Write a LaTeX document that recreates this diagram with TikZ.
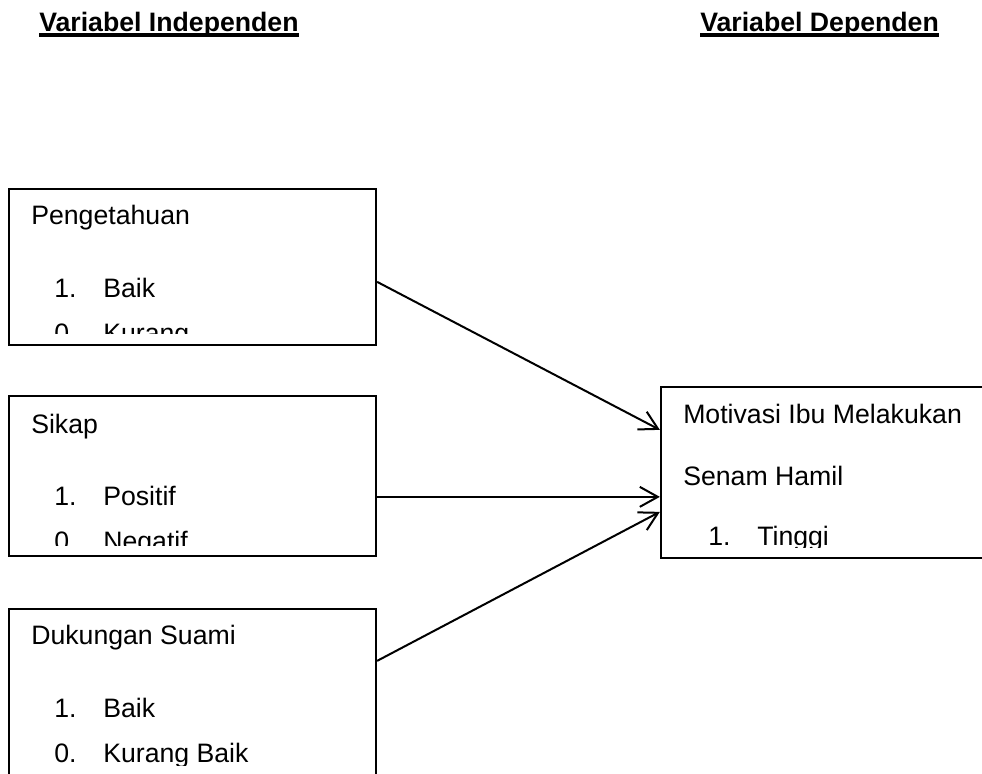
\documentclass[tikz,border=0pt]{standalone}
\usepackage{fontspec}
\setmainfont{Liberation Sans}
\usetikzlibrary{arrows.meta,calc,fit}
\begin{document}
\begin{tikzpicture}[x=0.75pt,y=-0.75pt,
  box/.style={draw, line width=1.7pt, inner sep=0pt},
  txt/.style={anchor=base west, inner sep=0pt, font=\fontsize{20}{24}\selectfont},
  ttl/.style={anchor=base west, inner sep=0pt, font=\fontsize{20}{24}\selectfont\bfseries},
  arr/.style={-{Straight Barb[length=13.5pt,width=15pt]}, line width=1.5pt}]
\clip (0,0) rectangle (982,774);
% titles
\node[ttl] (ti) at (39,32) {Variabel Independen};
\draw[line width=3pt] ($(ti.base west)+(0,3.5)$) -- ($(ti.base east)+(0,3.5)$);
\node[ttl] (td) at (700,32) {Variabel Dependen};
\draw[line width=3pt] ($(td.base west)+(0,3.5)$) -- ($(td.base east)+(0,3.5)$);
% boxes
\node[box, fit={(9,189) (376,345)}] (b1) {};
\node[box, fit={(9,396) (376,556)}] (b2) {};
\node[box, fit={(9,609) (376,800)}] (b3) {};
\node[box, fit={(661,387) (1000,558)}] (r) {};
% box 1 text
\begin{scope}
\clip (9,189) rectangle (376,333);
\node[txt] (b1h) at (31,224) {Pengetahuan};
\node[txt] (b1n1) at (54,297) {1.};
\node[txt] (b1l1) at (103,297) {Baik};
\node[txt] (b1n2) at (54,342) {0.};
\node[txt] (b1l2) at (103,342) {Kurang};
\end{scope}
% box 2 text
\begin{scope}
\clip (9,396) rectangle (376,545);
\node[txt] (b2h) at (31,433) {Sikap};
\node[txt] (b2n1) at (54,505) {1.};
\node[txt] (b2l1) at (103,505) {Positif};
\node[txt] (b2n2) at (54,550) {0.};
\node[txt] (b2l2) at (103,550) {Negatif};
\end{scope}
% box 3 text
\begin{scope}
\clip (9,609) rectangle (376,765);
\node[txt] (b3h) at (31,644) {Dukungan Suami};
\node[txt] (b3n1) at (54,717) {1.};
\node[txt] (b3l1) at (103,717) {Baik};
\node[txt] (b3n2) at (54,762) {0.};
\node[txt] (b3l2) at (103,762) {Kurang Baik};
\end{scope}
% right box text
\begin{scope}
\clip (661,387) rectangle (1000,547);
\node[txt] (rh1) at (683,423) {Motivasi Ibu Melakukan};
\node[txt] (rh2) at (683,485) {Senam Hamil};
\node[txt] (rn1) at (708,545) {1.};
\node[txt] (rl1) at (757,545) {Tinggi};
\end{scope}
% arrows
\draw[arr] ($(b1.north east)+(0,94)$) -- ($(r.north west)+(0,44)$);
\draw[arr] ($(b2.north east)+(0,102)$) -- ($(r.north west)+(0,111)$);
\draw[arr] ($(b3.north east)+(0,53)$) -- ($(r.north west)+(0,126)$);
\end{tikzpicture}
\end{document}
